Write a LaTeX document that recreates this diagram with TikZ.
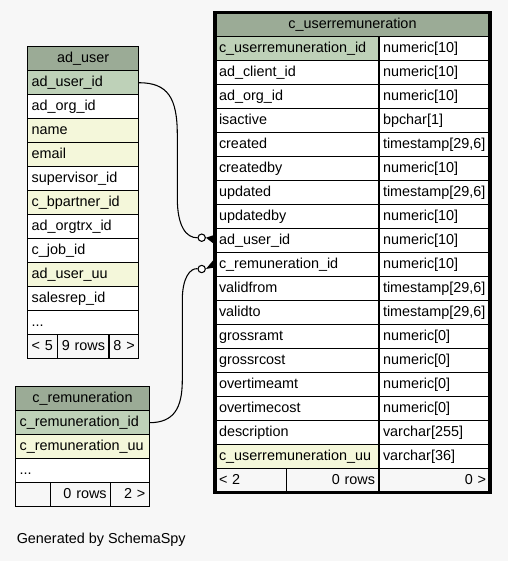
\documentclass[tikz,border=0pt]{standalone}
\usepackage{fontspec}
\setmainfont{Liberation Sans}
\definecolor{bgcol}{HTML}{F7F7F7}
\definecolor{headcol}{HTML}{9BAB96}
\definecolor{keycol}{HTML}{BED1B8}
\definecolor{idxcol}{HTML}{F4F7DA}
\begin{document}
\begin{tikzpicture}[x=0.75pt, y=-0.75pt,
  every node/.style={font=\fontsize{10.8}{12}\selectfont},
  cell/.style={draw, line width=0.85pt, anchor=north west, inner xsep=3pt,
    inner ysep=0pt, outer sep=0pt, minimum height=18pt,
    /utils/exec={\pgfmathsetlengthmacro\cellw{#1*0.75pt-6pt}},
    text width=\cellw, text height=7.5pt, text depth=2.5pt,
    align=left, fill=white},
  head/.style={cell=#1, align=center, fill=headcol},
  foot/.style={cell=#1, align=right, fill=bgcol}
]

\tikzstyle{odot}=[draw, circle, fill=white, line width=0.8pt,
  minimum size=5.5pt, inner sep=0pt]
\tikzstyle{link}=[line width=0.8pt]

\path[use as bounding box, fill=bgcol] (0,0) rectangle (508,561);

% ad_user
\node[head=111] (au) at (27.7,46.7) {ad\_user};
\foreach \txt/\bg [count=\i] in {ad\_user\_id/keycol, ad\_org\_id/white,
    name/idxcol, email/idxcol, supervisor\_id/white, c\_bpartner\_id/idxcol,
    ad\_orgtrx\_id/white, c\_job\_id/white, ad\_user\_uu/idxcol,
    salesrep\_id/white}
  \node[cell=111, fill=\bg] (au-\i) at (27.7,46.7+24*\i) {\txt};
\node[cell=111] (au-dots) at (27.7,310.7) {...};
\node[foot=29.6, align=left] (auf1) at (27.7,334.7) {< 5};
\node[foot=51.7] (auf2) at (57.3,334.7) {9 rows};
\node[foot=29.7] (auf3) at (109,334.7) {8 >};

% c_remuneration
\node[head=133.6] (cr) at (15.7,386.7) {c\_remuneration};
\node[cell=133.6, fill=keycol] (cr-1) at (15.7,410.7) {c\_remuneration\_id};
\node[cell=133.6, fill=idxcol] (cr-2) at (15.7,434.7) {c\_remuneration\_uu};
\node[cell=133.6] (cr-dots) at (15.7,458.7) {...};
\node[foot=35] (crf1) at (15.7,482.7) {};
\node[foot=60] (crf2) at (50.7,482.7) {0 rows};
\node[foot=38.6] (crf3) at (110.7,482.7) {2 >};

% c_userremuneration
\node[head=275] (ur) at (215,12.7) {c\_userremuneration};
\foreach \txt/\typ/\bg [count=\i] in {
    c\_userremuneration\_id/numeric[10]/keycol,
    ad\_client\_id/numeric[10]/white,
    ad\_org\_id/numeric[10]/white,
    isactive/bpchar[1]/white,
    created/{timestamp[29,6]}/white,
    createdby/numeric[10]/white,
    updated/{timestamp[29,6]}/white,
    updatedby/numeric[10]/white,
    ad\_user\_id/numeric[10]/white,
    c\_remuneration\_id/numeric[10]/white,
    validfrom/{timestamp[29,6]}/white,
    validto/{timestamp[29,6]}/white,
    grossramt/numeric[0]/white,
    grossrcost/numeric[0]/white,
    overtimeamt/numeric[0]/white,
    overtimecost/numeric[0]/white,
    description/varchar[255]/white,
    c\_userremuneration\_uu/varchar[36]/idxcol}
{
  \node[cell=164, fill=\bg] (ur-\i) at (215,12.7+24*\i) {\txt};
  \node[cell=111] (ur-\i-t) at (379,12.7+24*\i) {\typ};
}
\node[foot=71.7, align=left] (urf1) at (215,468.7) {< 2};
\node[foot=92.3] (urf2) at (286.7,468.7) {0 rows};
\node[foot=111] (urf3) at (379,468.7) {0 >};
\draw[line width=2.4pt] (ur.north west) rectangle (urf3.south east);

% relationships
\node[odot] (o1) at (201.7,237.7) {};
\node[odot] (o2) at (201.7,269) {};
\draw[link] (au-1.east) .. controls (168,82.7) and (177.3,98) .. (177.3,135)
  -- (177.3,198) .. controls (177.3,226) and (186,238) .. (o1);
\draw[link] (cr-1.east) .. controls (174,422.7) and (182.3,408) .. (182.3,380)
  -- (182.3,300) .. controls (182.3,278) and (190,268) .. (o2);
\fill (o1.east) -- ([yshift=4.5pt]ur-9.west) -- ([yshift=-3pt]ur-9.west) -- cycle;
\fill (o2.east) -- ([yshift=5pt]ur-10.west) -- ([yshift=-2pt]ur-10.west) -- cycle;

\node[anchor=west, inner sep=0pt] (gen) at (16.5,540) {Generated by SchemaSpy};
\end{tikzpicture}
\end{document}
